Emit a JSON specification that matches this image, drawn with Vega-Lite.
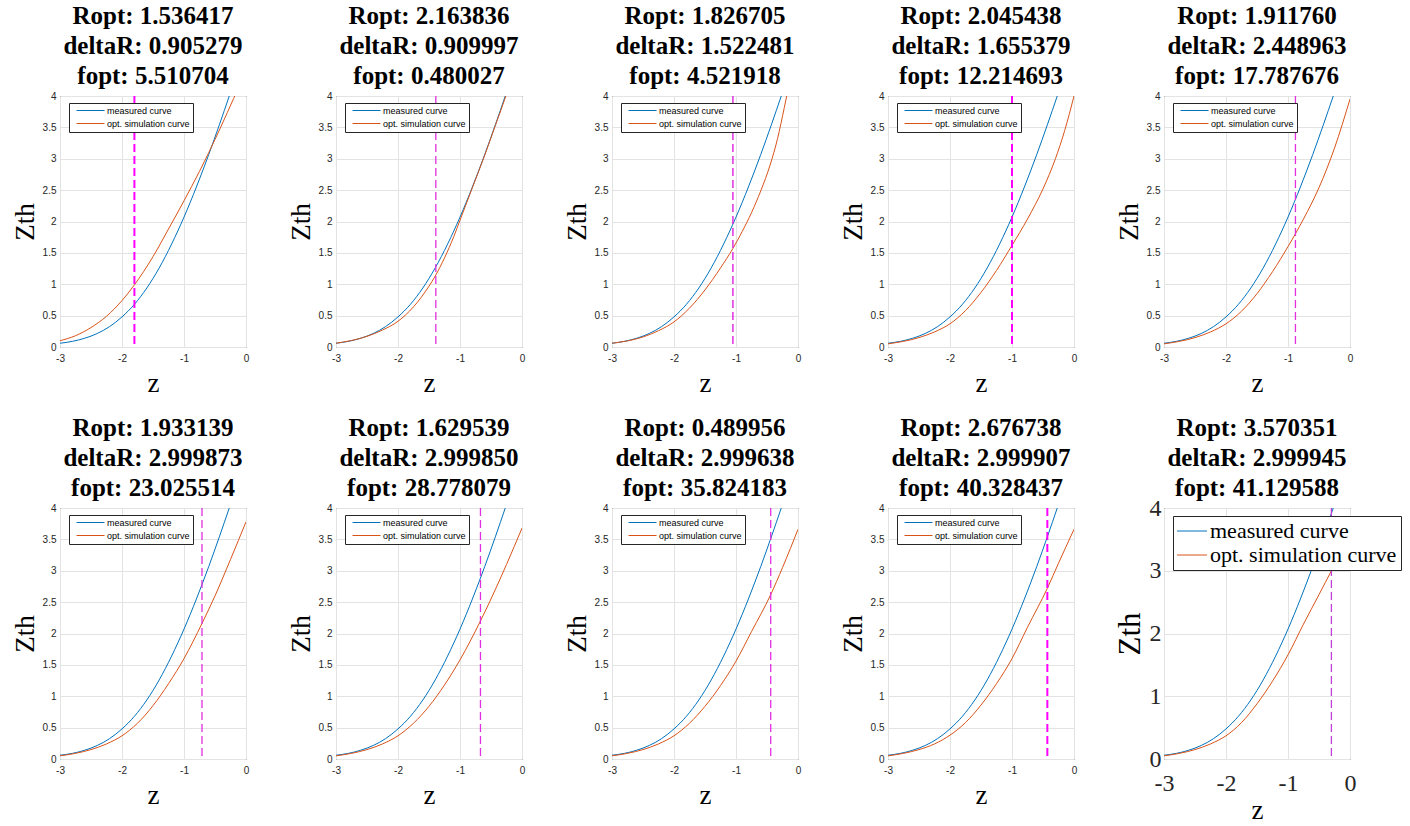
{
"$schema": "https://vega.github.io/schema/vega-lite/v6.json",
"padding": {"left": 10, "top": 3, "right": 0, "bottom": 0},
"background": "white",
"datasets": {
"curves": [
{"panel":0,"series":"measured curve","z":-3.0,"zth":0.06},
{"panel":0,"series":"measured curve","z":-2.8,"zth":0.09},
{"panel":0,"series":"measured curve","z":-2.6,"zth":0.14},
{"panel":0,"series":"measured curve","z":-2.4,"zth":0.215},
{"panel":0,"series":"measured curve","z":-2.2,"zth":0.325},
{"panel":0,"series":"measured curve","z":-2.0,"zth":0.48},
{"panel":0,"series":"measured curve","z":-1.8,"zth":0.68},
{"panel":0,"series":"measured curve","z":-1.6,"zth":0.94},
{"panel":0,"series":"measured curve","z":-1.4,"zth":1.26},
{"panel":0,"series":"measured curve","z":-1.2,"zth":1.64},
{"panel":0,"series":"measured curve","z":-1.0,"zth":2.07},
{"panel":0,"series":"measured curve","z":-0.8,"zth":2.55},
{"panel":0,"series":"measured curve","z":-0.6,"zth":3.07},
{"panel":0,"series":"measured curve","z":-0.43,"zth":3.54},
{"panel":0,"series":"measured curve","z":-0.27,"zth":4.0},
{"panel":0,"series":"measured curve","z":-0.1,"zth":4.5},
{"panel":1,"series":"opt. simulation curve","z":-3.0,"zth":0.10},
{"panel":1,"series":"opt. simulation curve","z":-2.75,"zth":0.18},
{"panel":1,"series":"opt. simulation curve","z":-2.5,"zth":0.31},
{"panel":1,"series":"opt. simulation curve","z":-2.25,"zth":0.49},
{"panel":1,"series":"opt. simulation curve","z":-2.0,"zth":0.74},
{"panel":1,"series":"opt. simulation curve","z":-1.8,"zth":0.99},
{"panel":1,"series":"opt. simulation curve","z":-1.5,"zth":1.44},
{"panel":1,"series":"opt. simulation curve","z":-1.25,"zth":1.88},
{"panel":1,"series":"opt. simulation curve","z":-1.0,"zth":2.33},
{"panel":1,"series":"opt. simulation curve","z":-0.75,"zth":2.8},
{"panel":1,"series":"opt. simulation curve","z":-0.6,"zth":3.1},
{"panel":1,"series":"opt. simulation curve","z":-0.4,"zth":3.52},
{"panel":1,"series":"opt. simulation curve","z":-0.2,"zth":3.96},
{"panel":1,"series":"opt. simulation curve","z":-0.1,"zth":4.18},
{"panel":2,"series":"opt. simulation curve","z":-3.0,"zth":0.06},
{"panel":2,"series":"opt. simulation curve","z":-2.5,"zth":0.17},
{"panel":2,"series":"opt. simulation curve","z":-2.25,"zth":0.27},
{"panel":2,"series":"opt. simulation curve","z":-2.0,"zth":0.41},
{"panel":2,"series":"opt. simulation curve","z":-1.75,"zth":0.64},
{"panel":2,"series":"opt. simulation curve","z":-1.5,"zth":0.97},
{"panel":2,"series":"opt. simulation curve","z":-1.4,"zth":1.13},
{"panel":2,"series":"opt. simulation curve","z":-1.25,"zth":1.42},
{"panel":2,"series":"opt. simulation curve","z":-1.1,"zth":1.76},
{"panel":2,"series":"opt. simulation curve","z":-1.0,"zth":2.02},
{"panel":2,"series":"opt. simulation curve","z":-0.8,"zth":2.54},
{"panel":2,"series":"opt. simulation curve","z":-0.6,"zth":3.06},
{"panel":2,"series":"opt. simulation curve","z":-0.43,"zth":3.53},
{"panel":2,"series":"opt. simulation curve","z":-0.26,"zth":4.0},
{"panel":2,"series":"opt. simulation curve","z":-0.1,"zth":4.48},
{"panel":3,"series":"opt. simulation curve","z":-3.0,"zth":0.06},
{"panel":3,"series":"opt. simulation curve","z":-2.5,"zth":0.16},
{"panel":3,"series":"opt. simulation curve","z":-2.25,"zth":0.26},
{"panel":3,"series":"opt. simulation curve","z":-2.0,"zth":0.40},
{"panel":3,"series":"opt. simulation curve","z":-1.75,"zth":0.62},
{"panel":3,"series":"opt. simulation curve","z":-1.5,"zth":0.91},
{"panel":3,"series":"opt. simulation curve","z":-1.25,"zth":1.26},
{"panel":3,"series":"opt. simulation curve","z":-1.05,"zth":1.57},
{"panel":3,"series":"opt. simulation curve","z":-0.9,"zth":1.84},
{"panel":3,"series":"opt. simulation curve","z":-0.75,"zth":2.14},
{"panel":3,"series":"opt. simulation curve","z":-0.6,"zth":2.49},
{"panel":3,"series":"opt. simulation curve","z":-0.45,"zth":2.9},
{"panel":3,"series":"opt. simulation curve","z":-0.33,"zth":3.32},
{"panel":3,"series":"opt. simulation curve","z":-0.22,"zth":3.82},
{"panel":3,"series":"opt. simulation curve","z":-0.12,"zth":4.3},
{"panel":4,"series":"opt. simulation curve","z":-3.0,"zth":0.05},
{"panel":4,"series":"opt. simulation curve","z":-2.5,"zth":0.15},
{"panel":4,"series":"opt. simulation curve","z":-2.25,"zth":0.24},
{"panel":4,"series":"opt. simulation curve","z":-2.0,"zth":0.37},
{"panel":4,"series":"opt. simulation curve","z":-1.75,"zth":0.58},
{"panel":4,"series":"opt. simulation curve","z":-1.5,"zth":0.87},
{"panel":4,"series":"opt. simulation curve","z":-1.25,"zth":1.22},
{"panel":4,"series":"opt. simulation curve","z":-1.0,"zth":1.62},
{"panel":4,"series":"opt. simulation curve","z":-0.75,"zth":2.04},
{"panel":4,"series":"opt. simulation curve","z":-0.5,"zth":2.52},
{"panel":4,"series":"opt. simulation curve","z":-0.3,"zth":3.0},
{"panel":4,"series":"opt. simulation curve","z":-0.15,"zth":3.45},
{"panel":4,"series":"opt. simulation curve","z":0.0,"zth":4.0},
{"panel":5,"series":"opt. simulation curve","z":-3.0,"zth":0.05},
{"panel":5,"series":"opt. simulation curve","z":-2.5,"zth":0.15},
{"panel":5,"series":"opt. simulation curve","z":-2.25,"zth":0.24},
{"panel":5,"series":"opt. simulation curve","z":-2.0,"zth":0.37},
{"panel":5,"series":"opt. simulation curve","z":-1.75,"zth":0.57},
{"panel":5,"series":"opt. simulation curve","z":-1.5,"zth":0.85},
{"panel":5,"series":"opt. simulation curve","z":-1.25,"zth":1.2},
{"panel":5,"series":"opt. simulation curve","z":-1.0,"zth":1.6},
{"panel":5,"series":"opt. simulation curve","z":-0.75,"zth":2.04},
{"panel":5,"series":"opt. simulation curve","z":-0.5,"zth":2.54},
{"panel":5,"series":"opt. simulation curve","z":-0.25,"zth":3.17},
{"panel":5,"series":"opt. simulation curve","z":0.0,"zth":3.95},
{"panel":6,"series":"opt. simulation curve","z":-3.0,"zth":0.05},
{"panel":6,"series":"opt. simulation curve","z":-2.75,"zth":0.09},
{"panel":6,"series":"opt. simulation curve","z":-2.5,"zth":0.15},
{"panel":6,"series":"opt. simulation curve","z":-2.25,"zth":0.24},
{"panel":6,"series":"opt. simulation curve","z":-2.0,"zth":0.37},
{"panel":6,"series":"opt. simulation curve","z":-1.75,"zth":0.57},
{"panel":6,"series":"opt. simulation curve","z":-1.5,"zth":0.85},
{"panel":6,"series":"opt. simulation curve","z":-1.25,"zth":1.2},
{"panel":6,"series":"opt. simulation curve","z":-1.0,"zth":1.6},
{"panel":6,"series":"opt. simulation curve","z":-0.71,"zth":2.16},
{"panel":6,"series":"opt. simulation curve","z":-0.5,"zth":2.6},
{"panel":6,"series":"opt. simulation curve","z":-0.25,"zth":3.18},
{"panel":6,"series":"opt. simulation curve","z":0.0,"zth":3.78},
{"panel":7,"series":"opt. simulation curve","z":-3.0,"zth":0.05},
{"panel":7,"series":"opt. simulation curve","z":-2.75,"zth":0.09},
{"panel":7,"series":"opt. simulation curve","z":-2.5,"zth":0.15},
{"panel":7,"series":"opt. simulation curve","z":-2.25,"zth":0.24},
{"panel":7,"series":"opt. simulation curve","z":-2.0,"zth":0.37},
{"panel":7,"series":"opt. simulation curve","z":-1.75,"zth":0.57},
{"panel":7,"series":"opt. simulation curve","z":-1.5,"zth":0.84},
{"panel":7,"series":"opt. simulation curve","z":-1.25,"zth":1.18},
{"panel":7,"series":"opt. simulation curve","z":-1.0,"zth":1.58},
{"panel":7,"series":"opt. simulation curve","z":-0.67,"zth":2.2},
{"panel":7,"series":"opt. simulation curve","z":-0.5,"zth":2.55},
{"panel":7,"series":"opt. simulation curve","z":-0.25,"zth":3.1},
{"panel":7,"series":"opt. simulation curve","z":0.0,"zth":3.68},
{"panel":8,"series":"opt. simulation curve","z":-3.0,"zth":0.05},
{"panel":8,"series":"opt. simulation curve","z":-2.75,"zth":0.09},
{"panel":8,"series":"opt. simulation curve","z":-2.5,"zth":0.15},
{"panel":8,"series":"opt. simulation curve","z":-2.25,"zth":0.24},
{"panel":8,"series":"opt. simulation curve","z":-2.0,"zth":0.37},
{"panel":8,"series":"opt. simulation curve","z":-1.75,"zth":0.57},
{"panel":8,"series":"opt. simulation curve","z":-1.5,"zth":0.84},
{"panel":8,"series":"opt. simulation curve","z":-1.25,"zth":1.17},
{"panel":8,"series":"opt. simulation curve","z":-1.0,"zth":1.56},
{"panel":8,"series":"opt. simulation curve","z":-0.75,"zth":2.03},
{"panel":8,"series":"opt. simulation curve","z":-0.44,"zth":2.62},
{"panel":8,"series":"opt. simulation curve","z":-0.25,"zth":3.05},
{"panel":8,"series":"opt. simulation curve","z":0.0,"zth":3.66},
{"panel":9,"series":"opt. simulation curve","z":-3.0,"zth":0.05},
{"panel":9,"series":"opt. simulation curve","z":-2.75,"zth":0.09},
{"panel":9,"series":"opt. simulation curve","z":-2.5,"zth":0.15},
{"panel":9,"series":"opt. simulation curve","z":-2.25,"zth":0.24},
{"panel":9,"series":"opt. simulation curve","z":-2.0,"zth":0.38},
{"panel":9,"series":"opt. simulation curve","z":-1.75,"zth":0.58},
{"panel":9,"series":"opt. simulation curve","z":-1.5,"zth":0.86},
{"panel":9,"series":"opt. simulation curve","z":-1.25,"zth":1.2},
{"panel":9,"series":"opt. simulation curve","z":-1.0,"zth":1.6},
{"panel":9,"series":"opt. simulation curve","z":-0.75,"zth":2.1},
{"panel":9,"series":"opt. simulation curve","z":-0.43,"zth":2.72},
{"panel":9,"series":"opt. simulation curve","z":-0.25,"zth":3.12},
{"panel":9,"series":"opt. simulation curve","z":0.0,"zth":3.66},
{"panel":10,"series":"opt. simulation curve","z":-3.0,"zth":0.05},
{"panel":10,"series":"opt. simulation curve","z":-2.75,"zth":0.09},
{"panel":10,"series":"opt. simulation curve","z":-2.5,"zth":0.15},
{"panel":10,"series":"opt. simulation curve","z":-2.25,"zth":0.24},
{"panel":10,"series":"opt. simulation curve","z":-2.0,"zth":0.37},
{"panel":10,"series":"opt. simulation curve","z":-1.75,"zth":0.58},
{"panel":10,"series":"opt. simulation curve","z":-1.5,"zth":0.88},
{"panel":10,"series":"opt. simulation curve","z":-1.25,"zth":1.24},
{"panel":10,"series":"opt. simulation curve","z":-1.0,"zth":1.66},
{"panel":10,"series":"opt. simulation curve","z":-0.75,"zth":2.15},
{"panel":10,"series":"opt. simulation curve","z":-0.5,"zth":2.62},
{"panel":10,"series":"opt. simulation curve","z":-0.3,"zth":3.0},
{"panel":10,"series":"opt. simulation curve","z":0.0,"zth":3.6}
],
"opt": [
{"panel":1,"z":-1.8},{"panel":2,"z":-1.39},{"panel":3,"z":-1.05},{"panel":4,"z":-1.0},{"panel":5,"z":-0.88},
{"panel":6,"z":-0.71},{"panel":7,"z":-0.67},{"panel":8,"z":-0.44},{"panel":9,"z":-0.43},{"panel":10,"z":-0.3}
]
},
"config": {
"view": {"stroke": "#262626", "strokeWidth": 1},
"axis": {"grid": true, "gridColor": "#e3e3e3", "domain": false, "ticks": false, "labelFont": "Liberation Sans", "labelFontSize": 10, "labelColor": "#262626", "titleFont": "Liberation Serif", "titleFontWeight": "normal", "titleColor": "#000000", "titleFontSize": 27, "labelOverlap": false},
"title": {"font": "Liberation Serif", "fontSize": 25, "fontWeight": "bold", "color": "#000000", "lineHeight": 30, "frame": "group", "anchor": "middle", "offset": 2},
"legend": {"symbolType": "M0,0H14", "symbolSize": 16, "symbolStrokeWidth": 1, "labelFont": "Liberation Sans", "labelFontSize": 9, "labelColor": "#000000", "fillColor": "white", "strokeColor": "#262626", "padding": 3, "rowPadding": 3, "labelOffset": 26, "labelLimit": 400}
},
"columns": 5,
"spacing": {"row": 161, "column": 90},
"bounds": "flush",
"resolve": {"scale": {"color": "independent"}},
"concat": [
{"width":186,"height":251,"title":{"text":["Ropt: 1.536417","deltaR: 0.905279","fopt: 5.510704"]},
"encoding":{"x":{"field":"z","type":"quantitative","scale":{"domain":[-3,0],"nice":false,"zero":false},"axis":{"values":[-3,-2,-1,0],"labelExpr":"'' + datum.value","labelFlush":false,"labelPadding":6,"title":"z","titleY":36,"titleBaseline":"middle"}}},
"layer":[
{"data":{"name":"curves"},"transform":[{"filter":"datum.panel == 0 || datum.panel == 1"}],"mark":{"type":"line","clip":true,"strokeWidth":1,"interpolate":"monotone"},
"encoding":{"y":{"field":"zth","type":"quantitative","scale":{"domain":[0,4],"nice":false},"axis":{"values":[0,0.5,1,1.5,2,2.5,3,3.5,4],"labelExpr":"'' + datum.value","labelFlush":false,"labelPadding":4,"title":"Zth","titleX":-35,"titleBaseline":"middle"}},
"color":{"field":"series","type":"nominal","scale":{"domain":["measured curve","opt. simulation curve"],"range":["#0072BD","#D95319"]},"legend":{"title":null,"orient":"none","legendX":9,"legendY":7}}}},
{"data":{"name":"opt"},"transform":[{"filter":"datum.panel == 1"}],"mark":{"type":"rule","color":"#ff00ff","strokeDash":[8,4],"strokeWidth":2},"encoding":{}}
]},
{"width":186,"height":251,"title":{"text":["Ropt: 2.163836","deltaR: 0.909997","fopt: 0.480027"]},
"encoding":{"x":{"field":"z","type":"quantitative","scale":{"domain":[-3,0],"nice":false,"zero":false},"axis":{"values":[-3,-2,-1,0],"labelExpr":"'' + datum.value","labelFlush":false,"labelPadding":6,"title":"z","titleY":36,"titleBaseline":"middle"}}},
"layer":[
{"data":{"name":"curves"},"transform":[{"filter":"datum.panel == 0 || datum.panel == 2"}],"mark":{"type":"line","clip":true,"strokeWidth":1,"interpolate":"monotone"},
"encoding":{"y":{"field":"zth","type":"quantitative","scale":{"domain":[0,4],"nice":false},"axis":{"values":[0,0.5,1,1.5,2,2.5,3,3.5,4],"labelExpr":"'' + datum.value","labelFlush":false,"labelPadding":4,"title":"Zth","titleX":-35,"titleBaseline":"middle"}},
"color":{"field":"series","type":"nominal","scale":{"domain":["measured curve","opt. simulation curve"],"range":["#0072BD","#D95319"]},"legend":{"title":null,"orient":"none","legendX":9,"legendY":7}}}},
{"data":{"name":"opt"},"transform":[{"filter":"datum.panel == 2"}],"mark":{"type":"rule","color":"#e030e0","strokeDash":[8,4],"strokeWidth":1.3},"encoding":{}}
]},
{"width":186,"height":251,"title":{"text":["Ropt: 1.826705","deltaR: 1.522481","fopt: 4.521918"]},
"encoding":{"x":{"field":"z","type":"quantitative","scale":{"domain":[-3,0],"nice":false,"zero":false},"axis":{"values":[-3,-2,-1,0],"labelExpr":"'' + datum.value","labelFlush":false,"labelPadding":6,"title":"z","titleY":36,"titleBaseline":"middle"}}},
"layer":[
{"data":{"name":"curves"},"transform":[{"filter":"datum.panel == 0 || datum.panel == 3"}],"mark":{"type":"line","clip":true,"strokeWidth":1,"interpolate":"monotone"},
"encoding":{"y":{"field":"zth","type":"quantitative","scale":{"domain":[0,4],"nice":false},"axis":{"values":[0,0.5,1,1.5,2,2.5,3,3.5,4],"labelExpr":"'' + datum.value","labelFlush":false,"labelPadding":4,"title":"Zth","titleX":-35,"titleBaseline":"middle"}},
"color":{"field":"series","type":"nominal","scale":{"domain":["measured curve","opt. simulation curve"],"range":["#0072BD","#D95319"]},"legend":{"title":null,"orient":"none","legendX":9,"legendY":7}}}},
{"data":{"name":"opt"},"transform":[{"filter":"datum.panel == 3"}],"mark":{"type":"rule","color":"#e030e0","strokeDash":[8,4],"strokeWidth":1.5},"encoding":{}}
]},
{"width":186,"height":251,"title":{"text":["Ropt: 2.045438","deltaR: 1.655379","fopt: 12.214693"]},
"encoding":{"x":{"field":"z","type":"quantitative","scale":{"domain":[-3,0],"nice":false,"zero":false},"axis":{"values":[-3,-2,-1,0],"labelExpr":"'' + datum.value","labelFlush":false,"labelPadding":6,"title":"z","titleY":36,"titleBaseline":"middle"}}},
"layer":[
{"data":{"name":"curves"},"transform":[{"filter":"datum.panel == 0 || datum.panel == 4"}],"mark":{"type":"line","clip":true,"strokeWidth":1,"interpolate":"monotone"},
"encoding":{"y":{"field":"zth","type":"quantitative","scale":{"domain":[0,4],"nice":false},"axis":{"values":[0,0.5,1,1.5,2,2.5,3,3.5,4],"labelExpr":"'' + datum.value","labelFlush":false,"labelPadding":4,"title":"Zth","titleX":-35,"titleBaseline":"middle"}},
"color":{"field":"series","type":"nominal","scale":{"domain":["measured curve","opt. simulation curve"],"range":["#0072BD","#D95319"]},"legend":{"title":null,"orient":"none","legendX":9,"legendY":7}}}},
{"data":{"name":"opt"},"transform":[{"filter":"datum.panel == 4"}],"mark":{"type":"rule","color":"#ff00ff","strokeDash":[8,4],"strokeWidth":2},"encoding":{}}
]},
{"width":186,"height":251,"title":{"text":["Ropt: 1.911760","deltaR: 2.448963","fopt: 17.787676"]},
"encoding":{"x":{"field":"z","type":"quantitative","scale":{"domain":[-3,0],"nice":false,"zero":false},"axis":{"values":[-3,-2,-1,0],"labelExpr":"'' + datum.value","labelFlush":false,"labelPadding":6,"title":"z","titleY":36,"titleBaseline":"middle"}}},
"layer":[
{"data":{"name":"curves"},"transform":[{"filter":"datum.panel == 0 || datum.panel == 5"}],"mark":{"type":"line","clip":true,"strokeWidth":1,"interpolate":"monotone"},
"encoding":{"y":{"field":"zth","type":"quantitative","scale":{"domain":[0,4],"nice":false},"axis":{"values":[0,0.5,1,1.5,2,2.5,3,3.5,4],"labelExpr":"'' + datum.value","labelFlush":false,"labelPadding":4,"title":"Zth","titleX":-35,"titleBaseline":"middle"}},
"color":{"field":"series","type":"nominal","scale":{"domain":["measured curve","opt. simulation curve"],"range":["#0072BD","#D95319"]},"legend":{"title":null,"orient":"none","legendX":9,"legendY":7}}}},
{"data":{"name":"opt"},"transform":[{"filter":"datum.panel == 5"}],"mark":{"type":"rule","color":"#e030e0","strokeDash":[8,4],"strokeWidth":1.3},"encoding":{}}
]},
{"width":186,"height":251,"title":{"text":["Ropt: 1.933139","deltaR: 2.999873","fopt: 23.025514"]},
"encoding":{"x":{"field":"z","type":"quantitative","scale":{"domain":[-3,0],"nice":false,"zero":false},"axis":{"values":[-3,-2,-1,0],"labelExpr":"'' + datum.value","labelFlush":false,"labelPadding":6,"title":"z","titleY":36,"titleBaseline":"middle"}}},
"layer":[
{"data":{"name":"curves"},"transform":[{"filter":"datum.panel == 0 || datum.panel == 6"}],"mark":{"type":"line","clip":true,"strokeWidth":1,"interpolate":"monotone"},
"encoding":{"y":{"field":"zth","type":"quantitative","scale":{"domain":[0,4],"nice":false},"axis":{"values":[0,0.5,1,1.5,2,2.5,3,3.5,4],"labelExpr":"'' + datum.value","labelFlush":false,"labelPadding":4,"title":"Zth","titleX":-35,"titleBaseline":"middle"}},
"color":{"field":"series","type":"nominal","scale":{"domain":["measured curve","opt. simulation curve"],"range":["#0072BD","#D95319"]},"legend":{"title":null,"orient":"none","legendX":9,"legendY":7}}}},
{"data":{"name":"opt"},"transform":[{"filter":"datum.panel == 6"}],"mark":{"type":"rule","color":"#e030e0","strokeDash":[8,4],"strokeWidth":1.3},"encoding":{}}
]},
{"width":186,"height":251,"title":{"text":["Ropt: 1.629539","deltaR: 2.999850","fopt: 28.778079"]},
"encoding":{"x":{"field":"z","type":"quantitative","scale":{"domain":[-3,0],"nice":false,"zero":false},"axis":{"values":[-3,-2,-1,0],"labelExpr":"'' + datum.value","labelFlush":false,"labelPadding":6,"title":"z","titleY":36,"titleBaseline":"middle"}}},
"layer":[
{"data":{"name":"curves"},"transform":[{"filter":"datum.panel == 0 || datum.panel == 7"}],"mark":{"type":"line","clip":true,"strokeWidth":1,"interpolate":"monotone"},
"encoding":{"y":{"field":"zth","type":"quantitative","scale":{"domain":[0,4],"nice":false},"axis":{"values":[0,0.5,1,1.5,2,2.5,3,3.5,4],"labelExpr":"'' + datum.value","labelFlush":false,"labelPadding":4,"title":"Zth","titleX":-35,"titleBaseline":"middle"}},
"color":{"field":"series","type":"nominal","scale":{"domain":["measured curve","opt. simulation curve"],"range":["#0072BD","#D95319"]},"legend":{"title":null,"orient":"none","legendX":9,"legendY":7}}}},
{"data":{"name":"opt"},"transform":[{"filter":"datum.panel == 7"}],"mark":{"type":"rule","color":"#e030e0","strokeDash":[8,4],"strokeWidth":1.3},"encoding":{}}
]},
{"width":186,"height":251,"title":{"text":["Ropt: 0.489956","deltaR: 2.999638","fopt: 35.824183"]},
"encoding":{"x":{"field":"z","type":"quantitative","scale":{"domain":[-3,0],"nice":false,"zero":false},"axis":{"values":[-3,-2,-1,0],"labelExpr":"'' + datum.value","labelFlush":false,"labelPadding":6,"title":"z","titleY":36,"titleBaseline":"middle"}}},
"layer":[
{"data":{"name":"curves"},"transform":[{"filter":"datum.panel == 0 || datum.panel == 8"}],"mark":{"type":"line","clip":true,"strokeWidth":1,"interpolate":"monotone"},
"encoding":{"y":{"field":"zth","type":"quantitative","scale":{"domain":[0,4],"nice":false},"axis":{"values":[0,0.5,1,1.5,2,2.5,3,3.5,4],"labelExpr":"'' + datum.value","labelFlush":false,"labelPadding":4,"title":"Zth","titleX":-35,"titleBaseline":"middle"}},
"color":{"field":"series","type":"nominal","scale":{"domain":["measured curve","opt. simulation curve"],"range":["#0072BD","#D95319"]},"legend":{"title":null,"orient":"none","legendX":9,"legendY":7}}}},
{"data":{"name":"opt"},"transform":[{"filter":"datum.panel == 8"}],"mark":{"type":"rule","color":"#e030e0","strokeDash":[8,4],"strokeWidth":1.3},"encoding":{}}
]},
{"width":186,"height":251,"title":{"text":["Ropt: 2.676738","deltaR: 2.999907","fopt: 40.328437"]},
"encoding":{"x":{"field":"z","type":"quantitative","scale":{"domain":[-3,0],"nice":false,"zero":false},"axis":{"values":[-3,-2,-1,0],"labelExpr":"'' + datum.value","labelFlush":false,"labelPadding":6,"title":"z","titleY":36,"titleBaseline":"middle"}}},
"layer":[
{"data":{"name":"curves"},"transform":[{"filter":"datum.panel == 0 || datum.panel == 9"}],"mark":{"type":"line","clip":true,"strokeWidth":1,"interpolate":"monotone"},
"encoding":{"y":{"field":"zth","type":"quantitative","scale":{"domain":[0,4],"nice":false},"axis":{"values":[0,0.5,1,1.5,2,2.5,3,3.5,4],"labelExpr":"'' + datum.value","labelFlush":false,"labelPadding":4,"title":"Zth","titleX":-35,"titleBaseline":"middle"}},
"color":{"field":"series","type":"nominal","scale":{"domain":["measured curve","opt. simulation curve"],"range":["#0072BD","#D95319"]},"legend":{"title":null,"orient":"none","legendX":9,"legendY":7}}}},
{"data":{"name":"opt"},"transform":[{"filter":"datum.panel == 9"}],"mark":{"type":"rule","color":"#ff00ff","strokeDash":[8,4],"strokeWidth":2},"encoding":{}}
]},
{"width":186,"height":251,"title":{"text":["Ropt: 3.570351","deltaR: 2.999945","fopt: 41.129588"],"offset":-5},
"encoding":{"x":{"field":"z","type":"quantitative","scale":{"domain":[-3,0],"nice":false,"zero":false},"axis":{"values":[-3,-2,-1,0],"labelExpr":"'' + datum.value","labelFlush":false,"labelPadding":12,"labelFont":"Liberation Serif","labelFontSize":24,"title":"z","titleY":51,"titleBaseline":"middle"}}},
"layer":[
{"data":{"name":"curves"},"transform":[{"filter":"datum.panel == 0 || datum.panel == 10"}],"mark":{"type":"line","clip":true,"strokeWidth":1,"interpolate":"monotone"},
"encoding":{"y":{"field":"zth","type":"quantitative","scale":{"domain":[0,4],"nice":false},"axis":{"values":[0,1,2,3,4],"labelExpr":"'' + datum.value","labelFlush":false,"labelPadding":3,"labelFont":"Liberation Serif","labelFontSize":24,"title":"Zth","titleFontSize":31,"titleX":-34,"titleBaseline":"middle"}},
"color":{"field":"series","type":"nominal","scale":{"domain":["measured curve","opt. simulation curve"],"range":["#0072BD","#D95319"]},"legend":{"title":null,"orient":"none","legendX":9,"legendY":8,"symbolType":"M-5.5,0H9.5","labelFont":"Liberation Serif","labelFontSize":22,"padding":4,"rowPadding":2,"labelOffset":11}}}},
{"data":{"name":"opt"},"transform":[{"filter":"datum.panel == 10"}],"mark":{"type":"rule","color":"#c040d8","strokeDash":[8,4],"strokeWidth":1.3},"encoding":{}}
]}
]
}
